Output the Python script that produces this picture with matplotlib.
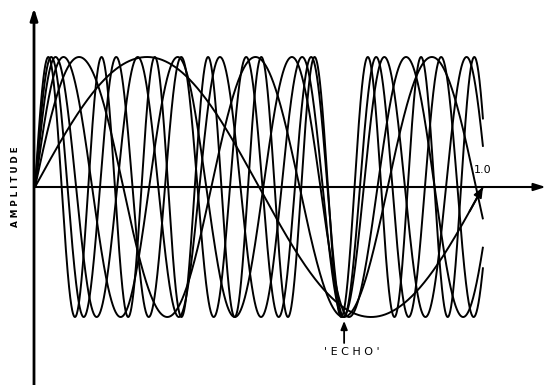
import numpy as np
import matplotlib
matplotlib.use("Agg")
import matplotlib.pyplot as plt

# Data: frequencies (cycles per unit time) of the sine waves
frequencies = [1.0, 2.54, 3.924, 5.45, 6.894, 8.413]
t_end = 1.0
echo_time = 0.69
axis_label = "AMPLITUDE"
end_label = "1.0"
echo_label = "'ECHO'"

W, H = 554, 385
fig = plt.figure(figsize=(W / 100, H / 100), dpi=100)
ax = fig.add_axes([0, 0, 1, 1])
x0_px, y0_px = 35, 187
sx, sy = 448.0, 130.0
ax.set_xlim(-x0_px / sx, (W - x0_px) / sx)
ax.set_ylim(-(H - y0_px) / sy, y0_px / sy)
ax.axis("off")

t = np.linspace(0, t_end, 3000)
for f in frequencies:
    ax.plot(t, np.sin(2 * np.pi * f * t), color="black", lw=1.4, solid_capstyle="butt")

# arrowhead on the slow wave end
f0 = frequencies[0]
ta = t_end - 0.03
ax.annotate("", xy=(t_end, np.sin(2 * np.pi * f0 * t_end)),
            xytext=(ta, np.sin(2 * np.pi * f0 * ta)),
            arrowprops=dict(arrowstyle="-|>,head_length=0.6,head_width=0.25",
                            color="black", lw=1.4, shrinkA=0, shrinkB=0))

# axes
ax.annotate("", xy=(1.14, 0), xytext=(0, 0),
            arrowprops=dict(arrowstyle="-|>,head_length=0.7,head_width=0.22",
                            color="black", lw=1.5, shrinkA=0, shrinkB=0))
ax.annotate("", xy=(-1 / sx, (y0_px - 8) / sy), xytext=(-1 / sx, -(H - y0_px + 5) / sy),
            arrowprops=dict(arrowstyle="-|>,head_length=0.7,head_width=0.22",
                            color="black", lw=2.0, shrinkA=0, shrinkB=0))

ax.text(-20 / sx, 0, " ".join(axis_label), rotation=90, ha="center", va="center",
        fontsize=6.3, fontweight="bold", family="DejaVu Sans")
ax.text(t_end, 0.09, end_label, ha="center", va="bottom", fontsize=8, family="DejaVu Sans")

# echo arrow and label
ax.annotate("", xy=(echo_time, -1.03), xytext=(echo_time, -1.2),
            arrowprops=dict(arrowstyle="-|>,head_length=0.5,head_width=0.2",
                            color="black", lw=1.3, shrinkA=0, shrinkB=0))
ax.text(echo_time + 8 / sx, -1.23, " ".join(echo_label), ha="center", va="top",
        fontsize=8, family="DejaVu Sans")

fig.savefig("out.png", dpi=100, facecolor="white")
